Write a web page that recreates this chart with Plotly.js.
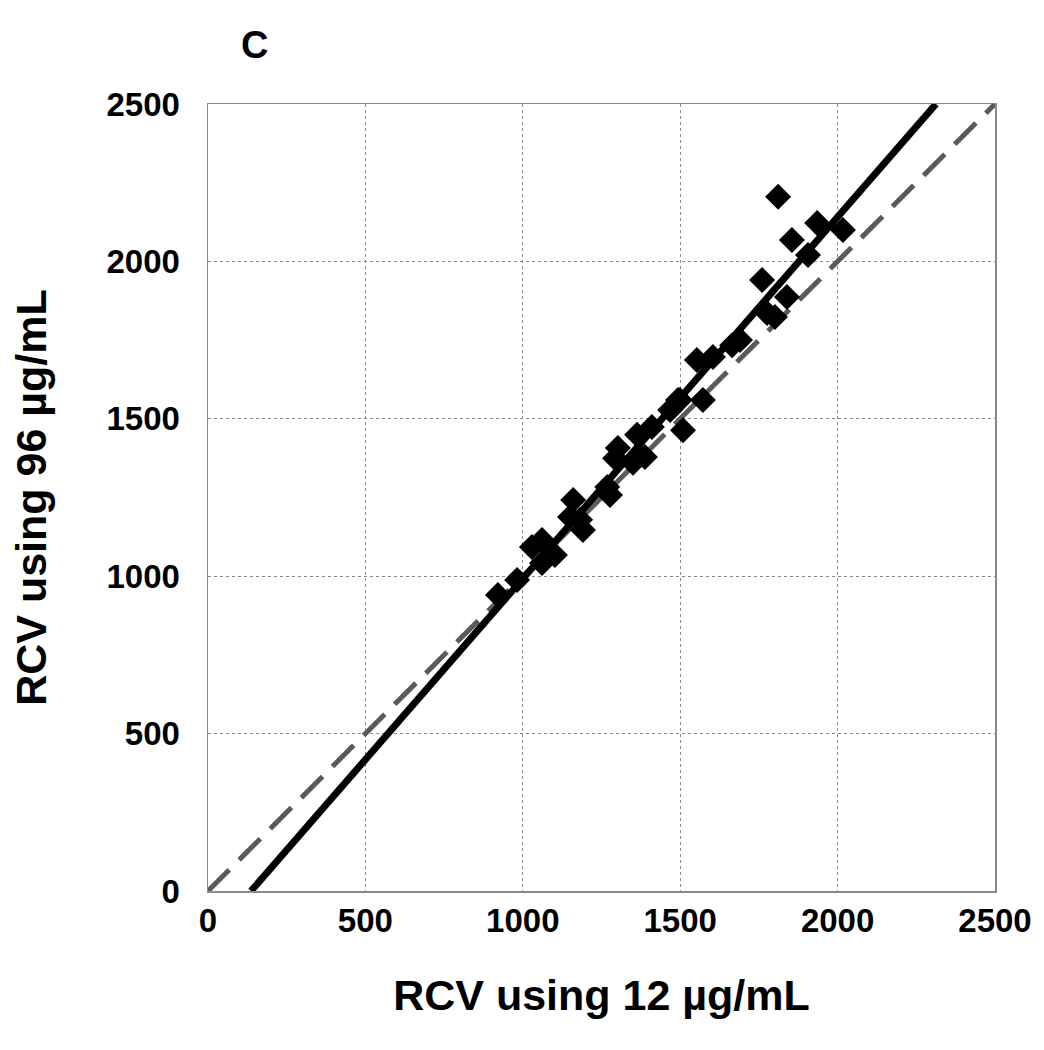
<!DOCTYPE html>
<html>
<head>
<meta charset="utf-8">
<script src="https://cdn.plot.ly/plotly-3.0.1.min.js"></script>
<style>
  body { margin: 0; background: #fff; }
  #graph { width: 1044px; height: 1050px; }
</style>
</head>
<body>
<div id="graph"></div>
<script>
// RCV measured with 12 ug/mL vs 96 ug/mL
var rcv12 = [921, 982, 1029, 1061, 1061, 1102, 1160, 1150, 1191, 1182,
             1277, 1268, 1302, 1293, 1350, 1363, 1388, 1410, 1468, 1499,
             1509, 1493, 1572, 1553, 1604, 1665, 1690, 1776, 1801, 1760,
             1839, 1811, 1855, 1906, 1935, 2017];
var rcv96 = [940, 988, 1093, 1115, 1042, 1067, 1242, 1188, 1147, 1179,
             1258, 1283, 1407, 1375, 1360, 1449, 1379, 1474, 1528, 1560,
             1464, 1560, 1560, 1687, 1696, 1734, 1750, 1836, 1823, 1941,
             1887, 2205, 2068, 2020, 2122, 2100];

// fitted regression line and the identity line
var fitSlope = 1.149;
var fitIntercept = -157;
var axisMax = 2500;

var fitX = [-fitIntercept / fitSlope, (axisMax - fitIntercept) / fitSlope];
var fitY = fitX.map(function (x) { return fitSlope * x + fitIntercept; });

var font = { family: 'Liberation Sans, Arial, sans-serif', color: '#000', weight: 'bold' };

var identity = {
  x: [0, axisMax], y: [0, axisMax],
  mode: 'lines',
  line: { color: '#5a5a5a', width: 5, dash: '30px,14px' },
  hoverinfo: 'skip'
};

var fit = {
  x: fitX, y: fitY,
  mode: 'lines',
  line: { color: '#000', width: 7 },
  hoverinfo: 'skip'
};

var points = {
  x: rcv12, y: rcv96,
  mode: 'markers',
  marker: { symbol: 'diamond', size: 20, color: '#000' }
};

var data = [identity, fit, points];

var axisCommon = {
  range: [0, axisMax],
  dtick: 500,
  showgrid: true,
  gridcolor: '#8a8a8a',
  griddash: 'dot',
  gridwidth: 1,
  showline: true,
  linecolor: '#8a8a8a',
  linewidth: 1.5,
  mirror: true,
  zeroline: false,
  ticks: '',
  tickfont: Object.assign({ size: 33 }, font)
};

var layout = {
  width: 1044,
  height: 1050,
  showlegend: false,
  paper_bgcolor: '#fff',
  plot_bgcolor: '#fff',
  margin: { l: 208, r: 49, t: 104, b: 159 },
  xaxis: Object.assign({}, axisCommon, {
    ticklabelstandoff: 0,
    title: { text: 'RCV using 12 µg/mL', font: Object.assign({ size: 43 }, font), standoff: 42 }
  }),
  yaxis: Object.assign({}, axisCommon, {
    ticklabelstandoff: 20,
    title: { text: 'RCV using 96 µg/mL', font: Object.assign({ size: 43 }, font), standoff: 46 }
  }),
  annotations: [{
    text: 'C', xref: 'paper', yref: 'paper', x: 0.04, y: 1.075,
    xanchor: 'left', yanchor: 'middle', showarrow: false,
    font: Object.assign({ size: 38 }, font)
  }]
};

Plotly.newPlot('graph', data, layout, { staticPlot: true });
</script>
</body>
</html>
